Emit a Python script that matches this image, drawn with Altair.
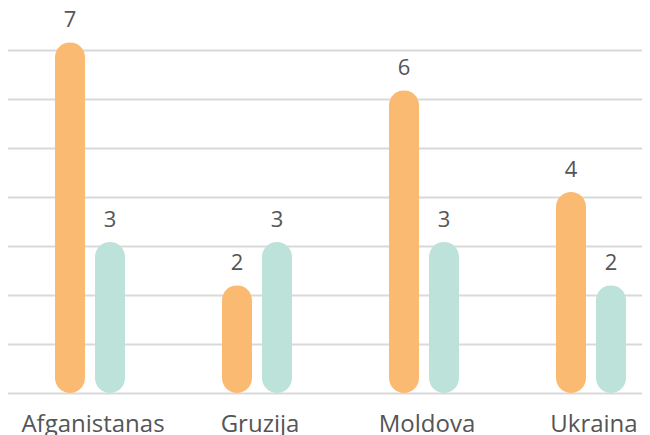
import altair as alt
import pandas as pd

categories = ["Afganistanas", "Gruzija", "Moldova", "Ukraina"]
series_names = ["A", "B"]
orange_values = [7.16, 2.2, 6.18, 4.1]
teal_values = [3.08, 3.08, 3.08, 2.2]
orange_labels = ["7", "2", "6", "4"]
teal_labels = ["3", "3", "3", "2"]

rows = []
for i, c in enumerate(categories):
    rows.append({"cat": c, "series": "A", "value": orange_values[i], "label": orange_labels[i]})
    rows.append({"cat": c, "series": "B", "value": teal_values[i], "label": teal_labels[i]})
df = pd.DataFrame(rows)

FONT = "Open Sans"
x_enc = alt.X("cat:N", sort=categories,
              scale=alt.Scale(range=[-3.5, 664.5], paddingInner=0, paddingOuter=0),
              axis=alt.Axis(title=None, domain=False, ticks=False, labelAngle=0,
                            labelFont=FONT, labelFontSize=24, labelColor="#555555",
                            labelBaseline="alphabetic", labelPadding=38, labelOffset=3))
xoff = alt.XOffset("series:N", sort=series_names,
                   scale=alt.Scale(range=[48.5, 118.5], paddingInner=0.25, paddingOuter=0))
y_enc = alt.Y("value:Q", scale=alt.Scale(domain=[0, 7], nice=False, zero=True),
              axis=alt.Axis(title=None, labels=False, ticks=False, domain=False,
                            values=[0, 1, 2, 3, 4, 5, 6, 7],
                            grid=True, gridColor="#d9d9d9", gridWidth=2))

bars = alt.Chart(df).mark_bar(cornerRadius=15).encode(
    x=x_enc,
    xOffset=xoff,
    y=y_enc,
    color=alt.Color("series:N", sort=series_names,
                    scale=alt.Scale(domain=series_names, range=["#fbba72", "#bde2da"]),
                    legend=None),
)

labels = alt.Chart(df).mark_text(dy=-10, baseline="bottom", font=FONT, fontSize=22,
                                 color="#555555").encode(
    x=alt.X("cat:N", sort=categories),
    xOffset=alt.XOffset("series:N", sort=series_names),
    y="value:Q",
    text="label:N",
)

chart = alt.layer(bars, labels).properties(
    width=632, height=343,
    autosize=alt.AutoSizeParams(type="none"),
    padding={"left": 2, "top": 42, "right": 0, "bottom": 42},
).configure_view(stroke=None)

chart.save("out.html", embed_options={"renderer": "svg", "actions": False})
